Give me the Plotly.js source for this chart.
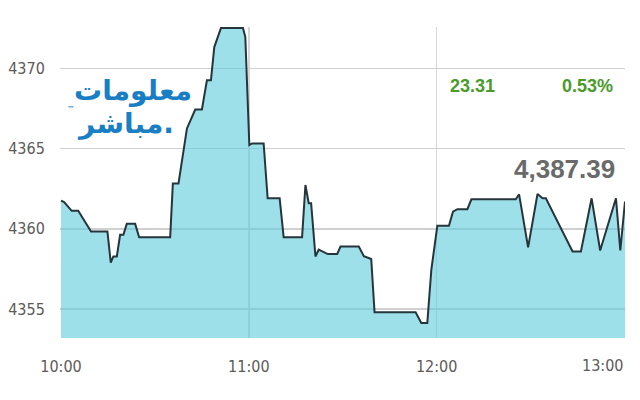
<!DOCTYPE html>
<html>
<head>
<meta charset="utf-8">
<script src="https://cdn.plot.ly/plotly-3.0.1.min.js"></script>
<style>html,body{margin:0;padding:0;background:#fff;}#chart{width:640px;height:400px;}</style>
</head>
<body>
<div id="chart"></div>
<script>
const day = '2024-01-01 ';
const times = ['10:00:00','10:01:00','10:03:25','10:05:30','10:09:36','10:14:50','10:15:54','10:16:44','10:17:50','10:18:53',
  '10:19:56','10:21:01','10:23:41','10:24:58','10:34:53','10:35:44','10:37:32','10:40:14','10:42:53','10:45:01',
  '10:46:37','10:47:54','10:48:58','10:51:06','10:58:08','10:58:53','11:00:10','11:01:02','11:04:44','11:06:01',
  '11:09:51','11:11:08','11:17:01','11:18:05','11:19:08','11:19:54','11:21:17','11:22:20','11:25:13','11:28:14',
  '11:29:17','11:35:08','11:36:44','11:39:06','11:40:10','11:53:17','11:55:06','11:57:01','11:58:18','12:00:13',
  '12:03:56','12:05:13','12:06:37','12:09:49','12:11:06','12:25:17','12:26:20','12:29:13','12:32:13','12:33:50',
  '12:34:53','12:43:25','12:46:05','12:49:30','12:52:14','12:57:17','12:58:40','13:00:10'];
const values = [4361.76,4361.66,4361.12,4361.12,4359.83,4359.83,4357.90,4358.28,4358.28,4359.63,
  4359.63,4360.31,4360.31,4359.48,4359.48,4362.83,4362.83,4366.25,4367.43,4367.43,
  4369.25,4369.25,4371.32,4372.50,4372.50,4371.94,4365.22,4365.32,4365.32,4361.90,
  4361.90,4359.48,4359.48,4362.73,4361.60,4361.60,4358.28,4358.70,4358.43,4358.43,
  4358.90,4358.90,4358.30,4358.12,4354.80,4354.80,4354.14,4354.14,4357.45,4360.19,
  4360.19,4361.07,4361.22,4361.22,4361.84,4361.84,4362.15,4358.84,4362.17,4361.90,
  4361.90,4358.59,4358.59,4361.90,4358.65,4361.90,4358.65,4361.70];
const yTicks = [4355, 4360, 4365, 4370];
const xTickTimes = ['10:00','11:00','12:00','13:00'];
const changeValue = '23.31';
const changePct = '0.53%';
const lastValue = '4,387.39';
const logoLines = ['معلومات', 'مباشر.'];

const x = times.map(t => day + t);
const tickFont = {family: '"Liberation Sans Narrow", "DejaVu Sans Condensed", "Roboto", sans-serif', size: 16, color: '#5e5a57'};

const trace = {
  x: x, y: values, type: 'scatter', mode: 'lines',
  line: {color: '#25353b', width: 2},
  fill: 'tozeroy', fillcolor: 'rgba(93,203,220,0.6)',
  hoverinfo: 'skip'
};

const shownTicks = xTickTimes.slice(0, 3);
const lastTick = xTickTimes[xTickTimes.length - 1];

const layout = {
  width: 640, height: 400,
  margin: {l: 60, r: 15, t: 27, b: 62},
  paper_bgcolor: '#ffffff', plot_bgcolor: '#ffffff',
  showlegend: false,
  xaxis: {
    type: 'date',
    range: [day + '09:59:41', day + '13:00:10'],
    tickvals: xTickTimes.map(t => day + t),
    ticktext: shownTicks.concat(['']),
    showgrid: true, gridcolor: '#d6d6d6', gridwidth: 1.5,
    zeroline: false, showline: false,
    ticks: 'outside', ticklen: 14, tickcolor: 'rgba(0,0,0,0)',
    tickfont: tickFont
  },
  yaxis: {
    range: [4353.2, 4372.57],
    tickvals: yTicks,
    ticktext: yTicks.map(String),
    showgrid: true, gridcolor: '#d0d0d0', gridwidth: 1.5,
    zeroline: false, showline: false,
    ticks: 'outside', ticklen: 11, tickcolor: 'rgba(0,0,0,0)',
    tickfont: tickFont
  },
  annotations: [
    {xref: 'paper', yref: 'paper', x: 1.0, y: -0.09, xanchor: 'right', yanchor: 'middle',
     text: lastTick, showarrow: false, font: tickFont},
    {xref: 'paper', yref: 'paper', x: 0.687, y: 0.81, xanchor: 'left', yanchor: 'middle',
     text: '<b>' + changeValue + '</b>', showarrow: false,
     font: {family: 'Liberation Sans, Arial, sans-serif', size: 18, color: '#4a9a2c'}},
    {xref: 'paper', yref: 'paper', x: 0.982, y: 0.81, xanchor: 'right', yanchor: 'middle',
     text: '<b>' + changePct + '</b>', showarrow: false,
     font: {family: 'Liberation Sans, Arial, sans-serif', size: 18, color: '#4a9a2c'}},
    {xref: 'paper', yref: 'paper', x: 0.985, y: 0.545, xanchor: 'right', yanchor: 'middle',
     text: '<b>' + lastValue + '</b>', showarrow: false,
     font: {family: 'Liberation Sans, Arial, sans-serif', size: 26, color: '#6a6a6a'}},
    {xref: 'paper', yref: 'paper', x: 0.022, y: 0.797, xanchor: 'left', yanchor: 'middle',
     text: '<b>' + logoLines[0] + '</b>', showarrow: false,
     font: {family: 'DejaVu Sans, sans-serif', size: 28, color: '#1a7ec4'}},
    {xref: 'paper', yref: 'paper', x: 0.027, y: 0.69, xanchor: 'left', yanchor: 'middle',
     text: '<b>' + logoLines[1] + '</b>', showarrow: false,
     font: {family: 'DejaVu Sans, sans-serif', size: 28, color: '#1a7ec4'}},
    {xref: 'paper', yref: 'paper', x: 0.008, y: 0.735, xanchor: 'left', yanchor: 'middle',
     text: '™', showarrow: false,
     font: {family: 'DejaVu Sans, sans-serif', size: 8, color: '#1a7ec4'}}
  ]
};

Plotly.newPlot('chart', [trace], layout, {displayModeBar: false, staticPlot: true});
</script>
</body>
</html>
